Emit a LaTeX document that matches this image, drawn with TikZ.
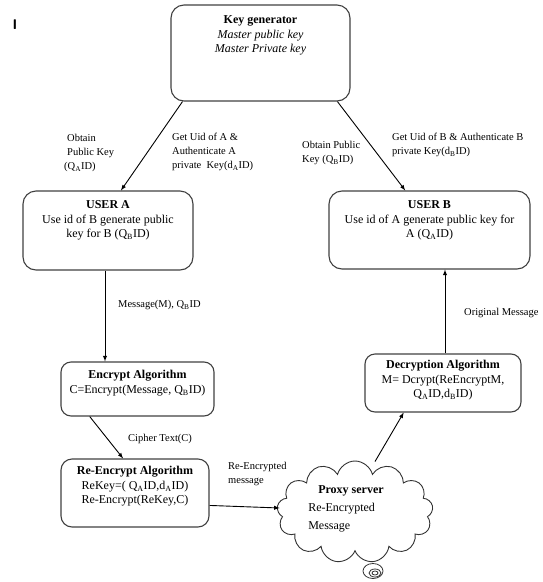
\documentclass[tikz,border=0pt]{standalone}
\usepackage{fontspec}
\setmainfont{Liberation Serif}
\usepackage{tikz}
\usetikzlibrary{arrows,shapes,calc,positioning}
\newcommand{\sub}[1]{\textsubscript{#1}}

\begin{document}
\begin{tikzpicture}[x=1pt,y=-1pt,
  box/.style={draw=black!75, line width=1.1pt, rounded corners=13pt},
  txt/.style={align=center, font=\fontsize{12}{14.5}\selectfont, inner sep=0pt},
  lbl/.style={align=left, anchor=west, font=\fontsize{10.5}{14}\selectfont, inner sep=0pt},
  arr/.style={->, >=latex, line width=0.9pt}]
\useasboundingbox (0,0) rectangle (542,582);
\node (mark) at (15,25) [font=\sffamily\bfseries\fontsize{14}{14}\selectfont] {I};
% boxes
\node (keygen) at (260.5,53) [box, minimum width=179pt, minimum height=96pt] {};
\node (keytxt) [txt, below=11pt of keygen.north] {\textbf{Key generator}\\ \textit{Master public key}\\ \textit{Master Private key}};
\node (userA) at (108,230.5) [box, minimum width=170pt, minimum height=79pt] {};
\node (userAtxt) [txt, below=10pt of userA.north] {\textbf{USER A}\\ Use id of B generate public\\ key for B (Q\sub{B}ID)};
\node (userB) at (429.5,230) [box, minimum width=201pt, minimum height=78pt] {};
\node (userBtxt) [txt, below=10pt of userB.north] {\textbf{USER B}\\ Use id of A generate public key for\\ A (Q\sub{A}ID)};
\node (enc) at (137.5,389) [box, rounded corners=10pt, minimum width=153pt, minimum height=54pt] {};
\node (enctxt) [txt, below=9pt of enc.north] {\textbf{Encrypt Algorithm}\\ C=Encrypt(Message, Q\sub{B}ID)};
\node (reenc) at (135,493) [box, rounded corners=11pt, minimum width=148pt, minimum height=68pt] {};
\node (reenctxt) [txt, below=8pt of reenc.north] {\textbf{Re-Encrypt Algorithm}\\ ReKey=( Q\sub{A}ID,d\sub{A}ID)\\ Re-Encrypt(ReKey,C)};
\node (dec) at (443,383) [box, rounded corners=10pt, minimum width=156pt, minimum height=58pt] {};
\node (dectxt) [txt, below=7pt of dec.north] {\textbf{Decryption Algorithm}\\ M= Dcrypt(ReEncryptM,\\ Q\sub{A}ID,d\sub{B}ID)};
\node (cloud) at (355,512) [cloud, cloud puffs=13, cloud ignores aspect, draw=black!80, line width=0.9pt, minimum width=156pt, minimum height=102pt, inner sep=0pt] {};
\node (cloudtxt) at (346,509) [align=left, inner sep=0pt, font=\fontsize{12}{18}\selectfont] {\hspace*{10pt}\textbf{Proxy server}\\ Re-Encrypted\\ Message};
\draw[black!80, line width=0.8pt] (373,571) ellipse (10pt and 7.5pt);
\draw[black!80, line width=0.8pt] (375,573) ellipse (6pt and 4pt);
\draw[black!80, line width=0.8pt] (375,573) ellipse (3pt and 2pt);
% connectors
\draw[arr] ($(keygen.south west)!0.067!(keygen.south east)$) -- ($(userA.north)+(13,0)$);
\draw[arr] ($(keygen.south west)!0.927!(keygen.south east)$) -- ($(userB.north west)!0.38!(userB.north east)$);
\draw[arr] ($(userA.south)+(-3,0)$) -- ($(userA.south |- enc.north)+(-3,0)$);
\draw[arr] ($(enc.south west)!0.19!(enc.south east)$) -- ($(reenc.north west)!0.42!(reenc.north east)$);
\draw[arr] ($(reenc.south east)!0.32!(reenc.north east)$) -- ($(cloud.west)+(2,-4)$);
\draw[arr] ($(cloud.north)+(20,1)$) -- ($(dec.south west)!0.25!(dec.south east)$);
\draw[arr] ($(dec.north)+(2,0)$) -- ($(dec.north |- userB.south)+(2,0)$);
% labels
\node (obtainA) at (64,153) [lbl] {\hspace*{3pt}Obtain\\ \hspace*{3pt}Public Key\\ (Q\sub{A}ID)};
\node (getA) at (172,152) [lbl] {Get Uid of A \&\\ Authenticate A\\ private\ \ Key(d\sub{A}ID)};
\node (obtainB) at (302,153) [lbl] {Obtain Public\\ Key (Q\sub{B}ID)};
\node (getB) at (392,145) [lbl] {Get Uid of B \& Authenticate B\\ private Key(d\sub{B}ID)};
\node (msg) at (118,305) [lbl] {Message(M), Q\sub{B}ID};
\node (cipher) at (128,439) [lbl] {Cipher Text(C)};
\node (remsg) at (228,474) [lbl] {Re-Encrypted\\ message};
\node (orig) at (464,313) [lbl] {Original Message};
\end{tikzpicture}
\end{document}
